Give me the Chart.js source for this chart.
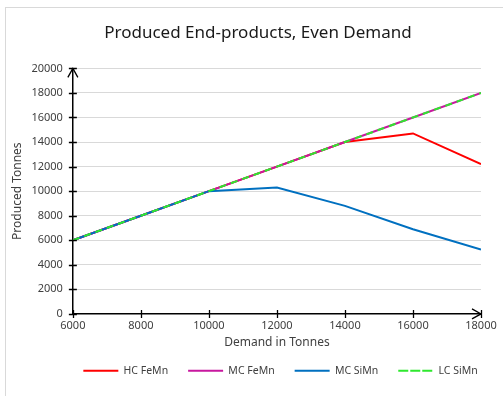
<!DOCTYPE html>
<html>
<head>
<meta charset="utf-8">
<script src="https://cdn.jsdelivr.net/npm/chart.js@4/dist/chart.umd.min.js"></script>
<style>
  html, body { margin: 0; padding: 0; background: #fff; }
  #wrap { width: 503px; height: 396px; }
</style>
</head>
<body>
<div id="wrap"><canvas id="chart"></canvas></div>
<script>
// demand in tonnes (x) and produced tonnes per product (y)
const demand = [6000, 8000, 10000, 12000, 14000, 16000, 18000];
const hcFeMn = [6000, 8000, 10000, 12000, 14000, 14700, 12200];
const mcFeMn = [6000, 8000, 10000, 12000, 14000, 16000, 18000];
const mcSiMn = [6000, 8000, 10000, 10300, 8800, 6900, 5250];
const lcSiMn = [6000, 8000, 10000, 12000, 14000, 16000, 18000];

const FONT = "'Noto Sans', 'Open Sans', sans-serif";
const TEXT = "#404040";

function pts(ys) {
  return demand.map((x, i) => ({ x: x, y: ys[i] }));
}

// light frame round the chart, like the spreadsheet chart area
const framePlugin = {
  id: "frame",
  afterLayout(chart) {
    // title and legend sit a little right of centre in the original
    chart.titleBlock.left += 25;
    chart.legend.left += 35;
    chart.legend.right += 35;
  },
  beforeDraw(chart) {
    const ctx = chart.ctx;
    ctx.save();
    ctx.strokeStyle = "#d9d9d9";
    ctx.lineWidth = 1;
    ctx.strokeRect(5.5, 7.5, chart.width + 20, chart.height + 20);
    ctx.restore();
  }
};

// cross tick marks and arrow heads on both axes
const axisPlugin = {
  id: "axisArrows",
  afterDatasetsDraw(chart) {
    const ctx = chart.ctx;
    const xs = chart.scales.x, ys = chart.scales.y;
    const x0 = xs.left, y0 = ys.bottom;
    ctx.save();
    ctx.strokeStyle = "#000";
    ctx.lineWidth = 1.3;
    ctx.beginPath();
    ys.ticks.forEach(t => {
      const py = Math.round(ys.getPixelForValue(t.value)) + 0.5;
      ctx.moveTo(x0 - 4, py); ctx.lineTo(x0 + 4, py);
    });
    xs.ticks.forEach(t => {
      const px = Math.round(xs.getPixelForValue(t.value)) + 0.5;
      ctx.moveTo(px, y0 - 4); ctx.lineTo(px, y0 + 4);
    });
    // y arrow
    const top = ys.top;
    ctx.moveTo(x0 - 5, top + 9); ctx.lineTo(x0, top); ctx.lineTo(x0 + 5, top + 9);
    // x arrow
    const right = xs.right;
    ctx.moveTo(right - 9, y0 - 5); ctx.lineTo(right, y0); ctx.lineTo(right - 9, y0 + 5);
    ctx.stroke();
    ctx.restore();
  }
};

const plain = v => String(v);

new Chart(document.getElementById("chart"), {
  type: "line",
  data: {
    datasets: [
      { label: "HC FeMn", data: pts(hcFeMn), borderColor: "#ff0000", backgroundColor: "#ff0000", order: 4 },
      { label: "MC FeMn", data: pts(mcFeMn), borderColor: "#c8189f", backgroundColor: "#c8189f", order: 3 },
      { label: "MC SiMn", data: pts(mcSiMn), borderColor: "#0070c0", backgroundColor: "#0070c0", order: 2 },
      { label: "LC SiMn", data: pts(lcSiMn), borderColor: "#2ee82e", backgroundColor: "#2ee82e", borderDash: [7, 5], order: 1 }
    ]
  },
  options: {
    responsive: true,
    maintainAspectRatio: false,
    animation: false,
    layout: { padding: { left: 10, right: 22, top: 4, bottom: 10 } },
    elements: {
      line: { borderWidth: 2, tension: 0, fill: false },
      point: { radius: 0, hoverRadius: 0 }
    },
    plugins: {
      title: {
        display: true,
        text: "Produced End-products, Even Demand",
        color: "#1a1a1a",
        font: { family: FONT, size: 17, weight: "normal" },
        padding: { top: 19, bottom: 25 }
      },
      legend: {
        position: "bottom",
        labels: {
          color: TEXT,
          font: { family: FONT, size: 10.5 },
          boxWidth: 35,
          boxHeight: 0,
          padding: 20,
          sort: (a, b) => a.datasetIndex - b.datasetIndex
        }
      },
      tooltip: { enabled: false }
    },
    scales: {
      x: {
        type: "linear",
        min: 6000,
        max: 18000,
        ticks: { stepSize: 2000, color: TEXT, font: { family: FONT, size: 11 }, padding: 5, maxRotation: 0, callback: plain },
        grid: { display: false, drawTicks: false },
        border: { color: "#000", width: 1.5 },
        title: { display: true, text: "Demand in Tonnes", color: TEXT, font: { family: FONT, size: 12 }, padding: { top: -2, bottom: -4 } }
      },
      y: {
        min: 0,
        max: 20000,
        ticks: { stepSize: 2000, color: TEXT, font: { family: FONT, size: 11 }, padding: 10, callback: plain },
        grid: { color: "#d9d9d9", lineWidth: 1, drawTicks: false },
        border: { color: "#000", width: 1.5 },
        title: { display: true, text: "Produced Tonnes", color: TEXT, font: { family: FONT, size: 12 }, padding: { top: 0, bottom: -3 } }
      }
    }
  },
  plugins: [framePlugin, axisPlugin]
});
</script>
</body>
</html>
